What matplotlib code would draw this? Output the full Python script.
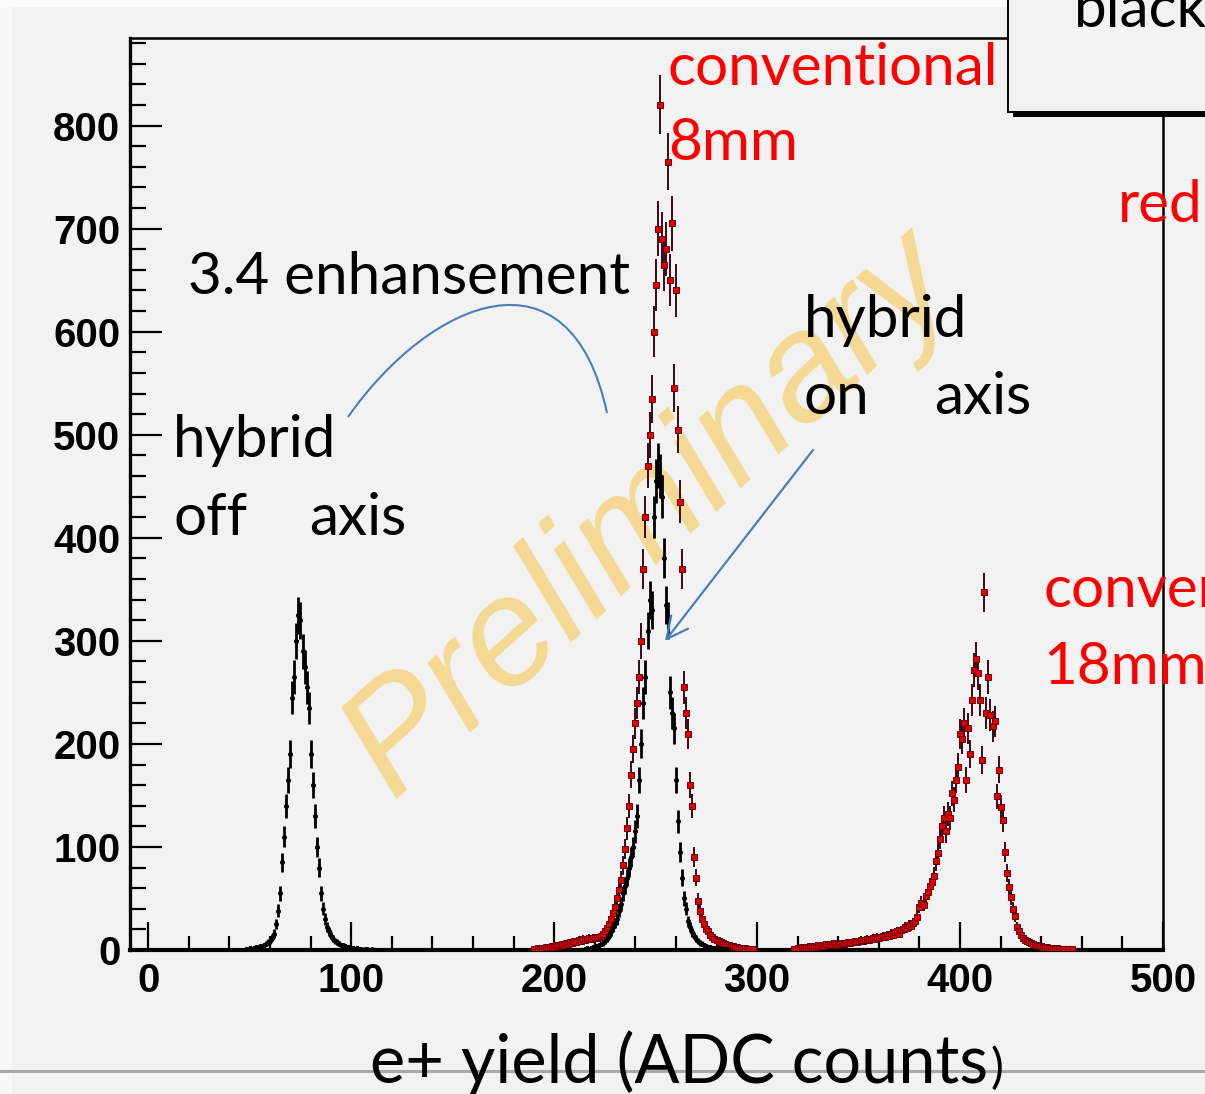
import numpy as np
import matplotlib
matplotlib.use("Agg")
import matplotlib.pyplot as plt
import matplotlib.transforms as mtransforms
from matplotlib.patches import FancyArrowPatch, PathPatch, Rectangle
from matplotlib.path import Path
from matplotlib.lines import Line2D
from matplotlib.ticker import MultipleLocator

# ---------------------------------------------------------------- data
# Histogram contents, one ADC count per bin, listed from the first bin shown.
off_axis_start = 48
off_axis_counts = [1, 0, 2, 1, 2, 3, 2, 4, 3, 5,
                   6, 8, 9, 12, 16, 25, 38, 55, 85, 110,
                   140, 165, 190, 245, 265, 300, 325, 320, 290, 275,
                   255, 235, 190, 160, 130, 100, 80, 55, 40, 30,
                   22, 18, 14, 11, 9, 8, 6, 5, 5, 4,
                   3, 3, 2, 2, 1, 2, 1, 1, 0, 1,
                   1, 0, 1]

on_axis_start = 215
on_axis_counts = [1, 2, 1, 2, 3, 3, 4, 5, 6, 7,
                  9, 11, 14, 18, 22, 26, 30, 38, 45, 55,
                  62, 70, 80, 90, 100, 115, 130, 165, 200, 240,
                  265, 310, 340, 330, 420, 455, 470, 460, 440, 380,
                  335, 320, 250, 230, 215, 165, 125, 95, 70, 50,
                  40, 28, 22, 17, 14, 11, 9, 7, 6, 5,
                  4, 3, 3, 2, 2, 1, 2, 1, 1, 0,
                  1]

conv8_start = 190
conv8_counts = [1, 0, 2, 1, 2, 2, 3, 2, 3, 4,
                3, 5, 4, 5, 6, 5, 7, 6, 8, 7,
                9, 8, 10, 9, 11, 10, 11, 12, 11, 12,
                12, 12, 13, 14, 16, 18, 21, 25, 30, 36,
                42, 50, 58, 68, 82, 98, 118, 140, 170, 195,
                220, 240, 265, 300, 370, 420, 470, 500, 535, 600,
                645, 700, 820, 690, 665, 680, 765, 650, 705, 545,
                640, 505, 435, 370, 255, 230, 210, 160, 140, 90,
                70, 48, 38, 30, 25, 20, 18, 15, 13, 11,
                10, 9, 8, 7, 6, 5, 5, 4, 4, 3,
                3, 2, 2, 1, 2, 1, 1, 0, 1]

conv18_start = 318
conv18_counts = [1, 0, 2, 1, 3, 2, 3, 2, 4, 3,
                 4, 3, 5, 4, 5, 4, 6, 5, 6, 5,
                 7, 6,
                 5, 6, 7, 6, 7, 8, 7, 8, 9, 8,
                 9, 10, 9, 10, 11, 10, 11, 12, 11, 13,
                 12, 13, 14, 13, 15, 14, 16, 15, 17, 18,
                 16, 19, 20, 22, 21, 24, 23, 26, 28, 32,
                 42, 46, 44, 52, 56, 62, 66, 72, 86, 94,
                 108, 120, 128, 115, 132, 128, 152, 146, 165, 178,
                 210, 205, 220, 165, 215, 190, 243, 272, 282, 269,
                 243, 184, 347, 230, 265, 228, 217, 222, 149, 175,
                 139, 126, 95, 75, 61, 51, 40, 33, 22, 18,
                 15, 12, 10, 9, 8, 7, 6, 5, 5, 4,
                 4, 3, 3, 3, 2, 2, 2, 1, 2, 1,
                 1, 1, 0, 1, 0, 1]

x_ticks = [0, 100, 200, 300, 400, 500]
y_ticks = [0, 100, 200, 300, 400, 500, 600, 700, 800]
x_label = "e+ yield (ADC counts"

# ---------------------------------------------------------------- figure
W, H, DPI = 1205, 1094, 100
BG = "#f2f2f2"
fig = plt.figure(figsize=(W / DPI, H / DPI), dpi=DPI, facecolor=BG)
# pixel-style coordinates (origin top-left) for the slide decorations
px = mtransforms.Affine2D().scale(1.0 / W, -1.0 / H).translate(0, 1) + fig.transFigure

fig.add_artist(Rectangle((0, 0), 12, H, transform=px, facecolor="#f8f8f8",
                         edgecolor="none", zorder=-5))
fig.add_artist(Rectangle((0, 0), W, 7, transform=px, facecolor="#fbfbfb",
                         edgecolor="none", zorder=-5))

ax = fig.add_axes([130 / W, (H - 950) / H, (1163 - 130) / W, (950 - 38) / H])
ax.set_facecolor(BG)
ax.set_xlim(-9, 500)
ax.set_ylim(0, 885)


def hist_points(start, counts):
    c = np.asarray(counts, dtype=float)
    x = start + np.arange(len(c))
    keep = c > 0
    return x[keep], c[keep]


rx1, ry1 = hist_points(conv8_start, conv8_counts)
rx2, ry2 = hist_points(conv18_start, conv18_counts)
rx, ry = np.concatenate([rx1, rx2]), np.concatenate([ry1, ry2])
bx1, by1 = hist_points(off_axis_start, off_axis_counts)
bx2, by2 = hist_points(on_axis_start, on_axis_counts)
bx, by = np.concatenate([bx1, bx2]), np.concatenate([by1, by2])

ax.errorbar(rx, ry, yerr=np.sqrt(ry), xerr=0.5, fmt="s", ms=3.8,
            mfc="#e00000", mec="#700010", mew=0.7,
            ecolor="#3a0a14", elinewidth=1.4, capsize=0, zorder=3)
ax.errorbar(bx, by, yerr=np.sqrt(by), xerr=0.6, fmt="o", ms=2.6,
            mfc="black", mec="black", ecolor="black",
            elinewidth=2.0, capsize=0, zorder=4)

# axes styling (inward ticks)
ax.xaxis.set_minor_locator(MultipleLocator(20))
ax.yaxis.set_minor_locator(MultipleLocator(20))
ax.set_xticks(x_ticks, labels=[str(v) for v in x_ticks],
              fontfamily="Liberation Sans", fontweight="bold", fontsize=29)
ax.set_yticks(y_ticks, labels=[str(v) for v in y_ticks],
              fontfamily="Liberation Sans", fontweight="bold", fontsize=29)
ax.tick_params(which="both", direction="in", top=False, right=False, color="black")
ax.tick_params(axis="y", which="major", length=23, width=1.6, pad=7)
ax.tick_params(axis="y", which="minor", length=11.5, width=1.6)
ax.tick_params(axis="x", which="major", length=20, width=1.6, pad=9)
ax.tick_params(axis="x", which="minor", length=10, width=1.6)
for side, lw in (("left", 2.4), ("bottom", 3.0), ("top", 1.8), ("right", 1.8)):
    ax.spines[side].set_linewidth(lw)
    ax.spines[side].set_color("black")

# watermark
ax.text(650, 515, "Preliminary", transform=px, rotation=42,
        rotation_mode="anchor", ha="center", va="center",
        fontfamily="Liberation Sans", fontstyle="italic", fontsize=110,
        color="#f6c445", alpha=0.55, zorder=1, clip_on=False)

# pave box in the top-right corner, with shadow
fig.add_artist(Rectangle((1013, -10), 240, 127, transform=px,
                         facecolor="black", edgecolor="none", zorder=5))
fig.add_artist(Rectangle((1008, -10), 240, 122, transform=px,
                         facecolor=BG, edgecolor="black", lw=1.4, zorder=6))

TXT = dict(family=["Lato", "DejaVu Sans"], fontsize=42, va="baseline",
           transform=px, zorder=8)
RED = "#ff0000"
fig.text(1074, 27, "black", color="black", **TXT)
fig.text(668, 85, "conventional", color=RED, **TXT)
fig.text(668, 160, "8mm", color=RED, **TXT)
fig.text(1118, 222, "red", color=RED, **TXT)
fig.text(1043, 607, "conventional", color=RED, **TXT)
fig.text(1043, 684, "18mm", color=RED, **TXT)
fig.text(188, 294, "3.4 enhansement", color="black", **TXT)
fig.text(804, 337, "hybrid", color="black", **TXT)
fig.text(804, 414, "on", color="black", **TXT)
fig.text(934, 414, "axis", color="black", **TXT)
fig.text(173, 457, "hybrid", color="black", **TXT)
fig.text(173, 535, "off", color="black", **TXT)
fig.text(309, 535, "axis", color="black", **TXT)

# blue annotation curve and arrow
BLUE = "#4a7ebb"
curve = Path([(348, 417), (430, 300), (570, 240), (607, 413)],
             [Path.MOVETO, Path.CURVE4, Path.CURVE4, Path.CURVE4])
fig.add_artist(PathPatch(curve, transform=px, facecolor="none",
                         edgecolor=BLUE, lw=1.5, zorder=7))
fig.add_artist(FancyArrowPatch((813, 450), (665, 641), transform=px,
                               arrowstyle="->,head_length=1.1,head_width=0.55",
                               mutation_scale=14, color=BLUE, lw=1.6,
                               shrinkA=0, shrinkB=0, zorder=7))

# slide edge line and axis title
fig.add_artist(Line2D([0, W], [1071, 1071], transform=px, color="#a8a8a8",
                      lw=2.2, zorder=2))
title = fig.text(370, 1083, x_label, color="black", family=["Lato", "DejaVu Sans"],
                 fontsize=48, va="baseline", transform=px, zorder=8)
fig.canvas.draw()
bb = title.get_window_extent()
fig.text(bb.x1 + 2, 1083, ")", color="black", family=["Lato", "DejaVu Sans"],
         fontsize=35, va="baseline", transform=px, zorder=8)

fig.savefig("out.png", dpi=DPI, facecolor=BG)
